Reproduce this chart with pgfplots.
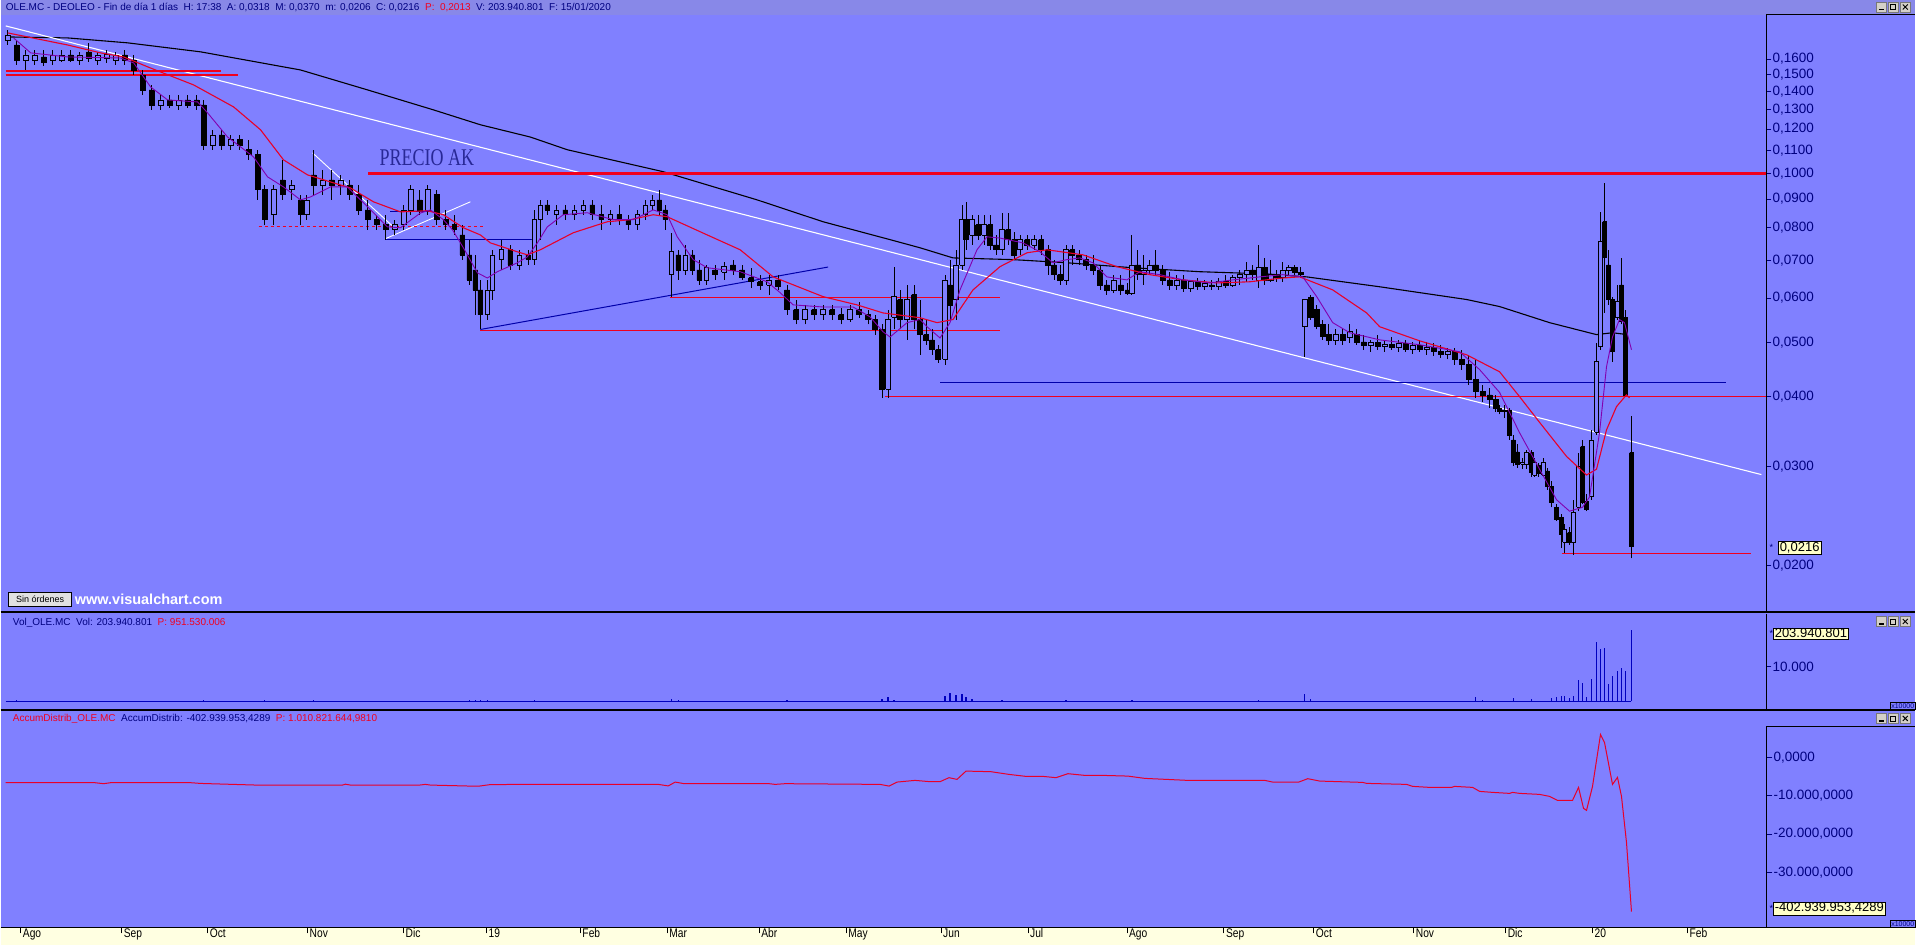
\documentclass[border=0pt]{standalone}
\usepackage{fontspec}
\setmainfont{Liberation Sans}
\newfontfamily\narrowfont[FakeStretch=0.82]{Liberation Sans}
\newfontfamily\precfont{Liberation Serif}
\usepackage{pgfplots}
\usepackage{pgfplotstable}
\pgfplotsset{compat=1.18}
\definecolor{bgp}{RGB}{128,128,255}
\definecolor{titlebg}{RGB}{136,136,232}
\definecolor{navy}{RGB}{0,0,128}
\definecolor{ylw}{RGB}{255,255,225}
\definecolor{maRed}{RGB}{232,0,40}
\definecolor{maPurple}{RGB}{130,0,175}
\definecolor{lnRed}{RGB}{240,0,30}
\definecolor{lnBlue}{RGB}{0,0,170}
\definecolor{volBlue}{RGB}{0,0,190}
\definecolor{btn}{RGB}{212,208,200}

% candles: x (bar position), open, high, low, close
\pgfplotstableread{
x o h l c
7 0.1730 0.1802 0.1694 0.1765
16 0.1694 0.1730 0.1561 0.1594
25 0.1594 0.1660 0.1529 0.1626
34 0.1594 0.1660 0.1561 0.1626
43 0.1613 0.1660 0.1555 0.1581
52 0.1594 0.1660 0.1561 0.1626
61 0.1594 0.1660 0.1581 0.1626
70 0.1626 0.1660 0.1581 0.1594
79 0.1594 0.1646 0.1561 0.1626
88 0.1646 0.1709 0.1581 0.1606
97 0.1594 0.1646 0.1561 0.1626
106 0.1606 0.1660 0.1574 0.1633
115 0.1594 0.1646 0.1561 0.1626
124 0.1626 0.1660 0.1561 0.1594
133 0.1594 0.1626 0.1498 0.1529
142 0.1498 0.1529 0.1380 0.1409
151 0.1409 0.1438 0.1298 0.1325
160 0.1325 0.1380 0.1298 0.1352
169 0.1352 0.1380 0.1309 0.1325
178 0.1325 0.1380 0.1298 0.1352
187 0.1352 0.1380 0.1309 0.1325
196 0.1352 0.1380 0.1298 0.1325
203 0.1325 0.1352 0.1102 0.1124
212 0.1124 0.1196 0.1102 0.1171
221 0.1171 0.1196 0.1102 0.1124
230 0.1124 0.1171 0.1102 0.1148
239 0.1148 0.1171 0.1102 0.1124
248 0.1102 0.1148 0.1057 0.1080
257 0.1080 0.1102 0.0897 0.0935
264 0.0935 0.0954 0.0810 0.0827
273 0.0844 0.0954 0.0810 0.0935
282 0.0974 0.1057 0.0897 0.0916
291 0.0935 0.0974 0.0897 0.0954
300 0.0897 0.0916 0.0810 0.0844
306 0.0844 0.0916 0.0827 0.0897
313 0.0994 0.1102 0.0916 0.0954
322 0.0954 0.1015 0.0916 0.0974
331 0.0974 0.1015 0.0897 0.0954
340 0.0954 0.0994 0.0916 0.0974
349 0.0954 0.0974 0.0897 0.0916
358 0.0916 0.0954 0.0844 0.0861
367 0.0861 0.0897 0.0794 0.0827
376 0.0827 0.0844 0.0794 0.0810
385 0.0810 0.0844 0.0762 0.0794
394 0.0794 0.0827 0.0777 0.0810
403 0.0810 0.0879 0.0794 0.0861
410 0.0861 0.0954 0.0844 0.0935
419 0.0897 0.0935 0.0844 0.0861
427 0.0861 0.0954 0.0844 0.0935
436 0.0916 0.0935 0.0810 0.0827
445 0.0827 0.0861 0.0794 0.0810
454 0.0810 0.0844 0.0777 0.0794
462 0.0777 0.0810 0.0702 0.0716
469 0.0716 0.0762 0.0633 0.0646
475 0.0673 0.0716 0.0560 0.0620
480 0.0620 0.0646 0.0527 0.0560
487 0.0560 0.0646 0.0549 0.0620
492 0.0620 0.0731 0.0596 0.0716
501 0.0702 0.0762 0.0673 0.0731
510 0.0731 0.0746 0.0673 0.0687
519 0.0687 0.0731 0.0673 0.0716
528 0.0716 0.0731 0.0687 0.0702
534 0.0702 0.0861 0.0687 0.0827
540 0.0827 0.0897 0.0762 0.0879
547 0.0879 0.0897 0.0844 0.0861
556 0.0844 0.0879 0.0810 0.0861
565 0.0861 0.0879 0.0827 0.0844
574 0.0844 0.0879 0.0827 0.0861
583 0.0861 0.0897 0.0844 0.0879
592 0.0879 0.0897 0.0827 0.0844
601 0.0844 0.0879 0.0794 0.0827
610 0.0827 0.0861 0.0810 0.0844
619 0.0844 0.0879 0.0810 0.0827
628 0.0827 0.0844 0.0794 0.0810
637 0.0810 0.0861 0.0794 0.0844
645 0.0844 0.0897 0.0827 0.0879
652 0.0879 0.0916 0.0861 0.0897
659 0.0897 0.0935 0.0844 0.0861
665 0.0861 0.0879 0.0794 0.0827
671 0.0660 0.0784 0.0603 0.0725
678 0.0716 0.0731 0.0646 0.0673
685 0.0673 0.0746 0.0660 0.0716
692 0.0716 0.0731 0.0660 0.0673
699 0.0673 0.0702 0.0633 0.0646
706 0.0646 0.0687 0.0633 0.0679
715 0.0673 0.0687 0.0646 0.0660
724 0.0667 0.0696 0.0646 0.0684
733 0.0687 0.0702 0.0660 0.0673
742 0.0673 0.0687 0.0646 0.0652
751 0.0652 0.0679 0.0625 0.0641
760 0.0641 0.0660 0.0620 0.0633
769 0.0633 0.0660 0.0608 0.0646
778 0.0646 0.0660 0.0620 0.0628
787 0.0620 0.0633 0.0560 0.0572
796 0.0572 0.0596 0.0538 0.0549
805 0.0549 0.0583 0.0538 0.0572
814 0.0572 0.0583 0.0549 0.0560
823 0.0560 0.0583 0.0549 0.0572
832 0.0572 0.0583 0.0549 0.0560
841 0.0560 0.0576 0.0538 0.0549
850 0.0549 0.0583 0.0544 0.0572
859 0.0572 0.0589 0.0553 0.0560
868 0.0560 0.0572 0.0538 0.0549
875 0.0549 0.0560 0.0516 0.0527
882 0.0527 0.0538 0.0398 0.0412
888 0.0412 0.0572 0.0398 0.0549
894 0.0555 0.0681 0.0527 0.0603
900 0.0596 0.0620 0.0527 0.0549
907 0.0549 0.0633 0.0505 0.0596
914 0.0608 0.0633 0.0527 0.0549
920 0.0549 0.0596 0.0475 0.0516
926 0.0516 0.0549 0.0495 0.0505
932 0.0505 0.0527 0.0475 0.0485
938 0.0485 0.0495 0.0460 0.0466
945 0.0466 0.0660 0.0456 0.0646
950 0.0633 0.0702 0.0549 0.0583
956 0.0596 0.0731 0.0549 0.0687
962 0.0687 0.0879 0.0673 0.0827
966 0.0827 0.0890 0.0731 0.0762
972 0.0777 0.0844 0.0746 0.0827
978 0.0810 0.0844 0.0762 0.0777
984 0.0777 0.0844 0.0746 0.0810
990 0.0810 0.0844 0.0731 0.0746
996 0.0746 0.0777 0.0716 0.0731
1002 0.0731 0.0850 0.0716 0.0794
1008 0.0794 0.0850 0.0746 0.0762
1014 0.0762 0.0787 0.0702 0.0716
1020 0.0731 0.0777 0.0716 0.0762
1027 0.0762 0.0777 0.0731 0.0746
1034 0.0746 0.0777 0.0731 0.0762
1041 0.0762 0.0777 0.0716 0.0731
1048 0.0731 0.0746 0.0660 0.0687
1054 0.0687 0.0702 0.0646 0.0660
1060 0.0660 0.0687 0.0633 0.0646
1066 0.0646 0.0746 0.0633 0.0731
1072 0.0731 0.0746 0.0687 0.0716
1079 0.0716 0.0731 0.0687 0.0702
1086 0.0702 0.0716 0.0673 0.0687
1093 0.0687 0.0716 0.0660 0.0673
1100 0.0673 0.0687 0.0620 0.0633
1107 0.0633 0.0646 0.0608 0.0620
1114 0.0620 0.0660 0.0612 0.0646
1121 0.0633 0.0660 0.0608 0.0620
1128 0.0620 0.0638 0.0608 0.0612
1132 0.0612 0.0777 0.0608 0.0687
1138 0.0687 0.0731 0.0646 0.0660
1144 0.0660 0.0716 0.0633 0.0673
1150 0.0673 0.0702 0.0660 0.0687
1156 0.0687 0.0731 0.0660 0.0673
1163 0.0673 0.0687 0.0633 0.0646
1170 0.0646 0.0667 0.0620 0.0633
1177 0.0633 0.0660 0.0620 0.0646
1184 0.0646 0.0660 0.0615 0.0625
1191 0.0625 0.0646 0.0615 0.0641
1198 0.0641 0.0652 0.0620 0.0628
1205 0.0628 0.0646 0.0620 0.0638
1212 0.0633 0.0646 0.0620 0.0630
1219 0.0630 0.0652 0.0620 0.0641
1226 0.0641 0.0660 0.0625 0.0633
1233 0.0633 0.0660 0.0628 0.0652
1240 0.0652 0.0673 0.0633 0.0660
1247 0.0660 0.0696 0.0641 0.0673
1253 0.0673 0.0687 0.0646 0.0660
1259 0.0646 0.0746 0.0625 0.0679
1265 0.0679 0.0707 0.0633 0.0646
1271 0.0646 0.0702 0.0641 0.0660
1277 0.0660 0.0673 0.0641 0.0652
1283 0.0652 0.0696 0.0641 0.0673
1289 0.0673 0.0687 0.0660 0.0679
1295 0.0679 0.0687 0.0660 0.0667
1301 0.0667 0.0681 0.0652 0.0660
1305 0.0534 0.0596 0.0471 0.0596
1311 0.0601 0.0608 0.0549 0.0555
1317 0.0572 0.0583 0.0527 0.0534
1323 0.0538 0.0549 0.0505 0.0512
1329 0.0516 0.0538 0.0495 0.0505
1336 0.0505 0.0527 0.0495 0.0516
1343 0.0516 0.0527 0.0495 0.0505
1350 0.0510 0.0538 0.0499 0.0523
1357 0.0516 0.0527 0.0495 0.0501
1364 0.0501 0.0516 0.0485 0.0493
1371 0.0493 0.0505 0.0481 0.0499
1378 0.0499 0.0516 0.0485 0.0491
1385 0.0491 0.0505 0.0481 0.0495
1392 0.0495 0.0510 0.0485 0.0489
1399 0.0489 0.0505 0.0481 0.0497
1406 0.0497 0.0505 0.0481 0.0485
1413 0.0485 0.0501 0.0477 0.0493
1420 0.0493 0.0505 0.0481 0.0485
1427 0.0485 0.0501 0.0475 0.0489
1434 0.0489 0.0499 0.0473 0.0481
1441 0.0481 0.0495 0.0469 0.0475
1448 0.0475 0.0489 0.0466 0.0481
1455 0.0481 0.0489 0.0456 0.0466
1462 0.0466 0.0485 0.0447 0.0456
1469 0.0456 0.0475 0.0420 0.0429
1476 0.0429 0.0466 0.0398 0.0409
1483 0.0409 0.0420 0.0392 0.0403
1490 0.0403 0.0415 0.0382 0.0395
1496 0.0395 0.0403 0.0376 0.0382
1500 0.0382 0.0387 0.0372 0.0376
1505 0.0376 0.0387 0.0367 0.0379
1510 0.0379 0.0382 0.0335 0.0342
1514 0.0335 0.0342 0.0301 0.0306
1518 0.0319 0.0329 0.0299 0.0303
1523 0.0303 0.0311 0.0297 0.0306
1527 0.0303 0.0322 0.0297 0.0318
1532 0.0318 0.0322 0.0288 0.0293
1535 0.0290 0.0311 0.0288 0.0306
1539 0.0302 0.0305 0.0288 0.0292
1544 0.0290 0.0311 0.0288 0.0306
1548 0.0295 0.0299 0.0273 0.0277
1552 0.0277 0.0283 0.0254 0.0259
1557 0.0254 0.0257 0.0240 0.0242
1562 0.0244 0.0247 0.0215 0.0227
1565 0.0220 0.0237 0.0211 0.0232
1570 0.0229 0.0234 0.0218 0.0220
1574 0.0220 0.0262 0.0209 0.0249
1579 0.0254 0.0318 0.0250 0.0301
1583 0.0326 0.0335 0.0257 0.0259
1587 0.0260 0.0268 0.0250 0.0252
1592 0.0266 0.0349 0.0262 0.0335
1597 0.0346 0.0499 0.0342 0.0462
1601 0.0491 0.0854 0.0485 0.0756
1605 0.0820 0.0962 0.0565 0.0710
1609 0.0687 0.0731 0.0583 0.0596
1613 0.0596 0.0601 0.0462 0.0481
1618 0.0553 0.0633 0.0549 0.0591
1622 0.0633 0.0707 0.0538 0.0544
1626 0.0553 0.0572 0.0400 0.0403
1632 0.0318 0.0370 0.0206 0.0216
}\candles
\pgfplotstablegetrowsof{\candles}
\pgfmathtruncatemacro\nlast{\pgfplotsretval-1}

\pgfplotsset{
  wick/.style={black, line width=0.8pt, forget plot, mark=none},
  candleup/.style={draw=black, fill=bgp, line width=0.6pt, forget plot, mark=none},
  candledn/.style={draw=black, fill=black, line width=0.6pt, forget plot, mark=none},
}
\newcommand\drawcandles{%
  \pgfplotsforeachungrouped \ci in {0,...,\nlast}{%
    \pgfplotstablegetelem{\ci}{x}\of\candles \edef\cx{\pgfplotsretval}%
    \pgfplotstablegetelem{\ci}{o}\of\candles \edef\co{\pgfplotsretval}%
    \pgfplotstablegetelem{\ci}{h}\of\candles \edef\ch{\pgfplotsretval}%
    \pgfplotstablegetelem{\ci}{l}\of\candles \edef\cl{\pgfplotsretval}%
    \pgfplotstablegetelem{\ci}{c}\of\candles \edef\cc{\pgfplotsretval}%
    \ifdim\cx pt<1498pt \def\hw{2.4}\else\def\hw{1.8}\fi
    \pgfmathsetmacro\xa{\cx-\hw}\pgfmathsetmacro\xb{\cx+\hw}%
    \ifdim\cc pt<\co pt \def\cst{candledn}\else\def\cst{candleup}\fi
    \edef\tmp{\noexpand\addplot[wick] coordinates {(\cx,\cl) (\cx,\ch)};
      \noexpand\addplot[\cst] coordinates {(\xa,\co) (\xb,\co) (\xb,\cc) (\xa,\cc) (\xa,\co)};}%
    \tmp
  }%
}

\begin{document}
\begin{tikzpicture}
\begin{scope}[x=1pt,y=1pt]
\fill[bgp] (0,0) rectangle (1916,946);
\fill[titlebg] (0,931) rectangle (1916,946);
\fill[ylw] (0,0) rectangle (1916,18);
\end{scope}

% ================= PRICE PANEL =================
\begin{axis}[at={(0pt,334pt)}, anchor=south west, scale only axis,
  width=1767pt, height=597pt,
  xmin=0, xmax=1767, ymode=log, ymin=0.01656, ymax=0.1916,
  axis line style={draw=none}, xtick=\empty,
  ytick pos=right, yticklabel pos=right, tick align=outside,
  major tick length=5pt, yminorticks=false,
  ytick style={navy, line width=0.7pt},
  ytick={0.02,0.03,0.04,0.05,0.06,0.07,0.08,0.09,0.1,0.11,0.12,0.13,0.14,0.15,0.16},
  yticklabels={{0,0200},{0,0300},{0,0400},{0,0500},{0,0600},{0,0700},{0,0800},{0,0900},{0,1000},{0,1100},{0,1200},{0,1300},{0,1400},{0,1500},{0,1600}},
  yticklabel style={font=\fontsize{13.5}{14}\selectfont, text=navy, inner sep=1pt},
]
\addplot[black, line width=1.1pt] coordinates {(7,0.1751)(67,0.1744)(127,0.1709)(200,0.1647)(300,0.1529)(367,0.1409)(433,0.1298)(480,0.1221)(530,0.1161)(567,0.1102)(663,0.1007)(757,0.0897)(823,0.0820)(890,0.0762)(920,0.0737)(953,0.0707)(1013,0.0702)(1067,0.0693)(1133,0.0679)(1200,0.0668)(1267,0.0662)(1307,0.0654)(1380,0.0628)(1467,0.0596)(1500,0.0579)(1550,0.0542)(1597,0.0516)(1613,0.0520)(1628,0.0516)};
\addplot[white, line width=1.1pt] coordinates {(5,0.1832)(1762,0.02905)};
\addplot[white, line width=0.9pt] coordinates {(312,0.1088)(393,0.0803)};
\addplot[white, line width=0.9pt] coordinates {(385,0.0765)(470,0.0890)};
\addplot[lnRed, line width=1.2pt] coordinates {(5,0.1523)(220,0.1523)};
\addplot[lnRed, line width=1.2pt] coordinates {(5,0.1498)(237,0.1498)};
\addplot[lnRed, line width=0.9pt, dash pattern=on 3pt off 3pt] coordinates {(258,0.0803)(485,0.0803)};
\addplot[lnBlue, line width=0.9pt] coordinates {(385,0.0762)(537,0.0762)};
\addplot[lnBlue, line width=0.9pt] coordinates {(390,0.0854)(433,0.0854)};
\addplot[lnBlue, line width=1.0pt] coordinates {(480,0.0527)(828,0.0681)};
\addplot[lnRed, line width=2.3pt] coordinates {(368,0.1000)(1767,0.1000)};
\addplot[lnRed, line width=1.0pt] coordinates {(480,0.0525)(1000,0.0525)};
\addplot[lnRed, line width=1.0pt] coordinates {(670,0.0600)(1000,0.0600)};
\addplot[lnBlue, line width=1.0pt] coordinates {(940,0.0424)(1727,0.0424)};
\addplot[lnRed, line width=1.0pt] coordinates {(885,0.0400)(1767,0.0400)};
\addplot[lnRed, line width=1.0pt] coordinates {(1562,0.0210)(1752,0.0210)};
\drawcandles
\addplot[maRed, line width=1.1pt] coordinates {(7,0.1780)(67,0.1694)(100,0.1640)(123,0.1613)(150,0.1541)(193,0.1438)(233,0.1314)(260,0.1196)(283,0.1057)(307,0.0994)(333,0.0962)(350,0.0942)(373,0.0890)(400,0.0854)(427,0.0858)(443,0.0844)(463,0.0800)(480,0.0777)(490,0.0752)(517,0.0725)(527,0.0716)(540,0.0731)(573,0.0784)(607,0.0820)(630,0.0827)(653,0.0844)(667,0.0837)(707,0.0777)(740,0.0731)(773,0.0654)(823,0.0603)(857,0.0583)(883,0.0564)(920,0.0553)(937,0.0542)(953,0.0549)(973,0.0620)(1000,0.0682)(1027,0.0722)(1047,0.0731)(1083,0.0716)(1117,0.0682)(1150,0.0660)(1183,0.0646)(1217,0.0638)(1250,0.0641)(1283,0.0651)(1300,0.0654)(1333,0.0620)(1367,0.0564)(1380,0.0533)(1420,0.0503)(1467,0.0475)(1500,0.0443)(1520,0.0400)(1540,0.0360)(1567,0.0313)(1587,0.0290)(1597,0.0297)(1607,0.0349)(1617,0.0384)(1627,0.0403)(1630,0.0398)};
\addplot[maPurple, line width=0.9pt] coordinates {(13,0.1743)(30,0.1640)(67,0.1613)(120,0.1606)(133,0.1574)(150,0.1426)(167,0.1352)(197,0.1341)(207,0.1282)(227,0.1161)(240,0.1115)(253,0.1070)(267,0.0986)(283,0.0946)(300,0.0897)(310,0.0908)(330,0.0946)(347,0.0946)(367,0.0872)(387,0.0803)(400,0.0800)(420,0.0850)(430,0.0861)(443,0.0827)(452,0.0794)(463,0.0737)(477,0.0665)(487,0.0651)(497,0.0668)(517,0.0693)(527,0.0710)(537,0.0752)(547,0.0803)(563,0.0844)(587,0.0851)(613,0.0827)(633,0.0827)(653,0.0861)(667,0.0844)(677,0.0771)(693,0.0702)(707,0.0679)(740,0.0668)(767,0.0641)(780,0.0613)(793,0.0583)(823,0.0578)(853,0.0578)(870,0.0555)(883,0.0522)(890,0.0511)(907,0.0542)(920,0.0549)(927,0.0533)(940,0.0509)(950,0.0542)(960,0.0620)(977,0.0731)(987,0.0771)(1000,0.0767)(1023,0.0752)(1040,0.0725)(1053,0.0693)(1067,0.0702)(1080,0.0707)(1093,0.0693)(1107,0.0654)(1127,0.0646)(1140,0.0668)(1160,0.0660)(1183,0.0646)(1210,0.0638)(1233,0.0646)(1260,0.0654)(1283,0.0660)(1303,0.0654)(1317,0.0603)(1333,0.0542)(1350,0.0520)(1380,0.0505)(1420,0.0495)(1460,0.0481)(1480,0.0447)(1500,0.0407)(1520,0.0345)(1540,0.0297)(1557,0.0262)(1570,0.0250)(1583,0.0254)(1590,0.0265)(1600,0.0345)(1607,0.0452)(1613,0.0511)(1620,0.0549)(1625,0.0542)(1632,0.0485)};
\end{axis}

% ================= VOLUME PANEL =================
\begin{axis}[at={(0pt,235pt)}, anchor=south west, scale only axis,
  width=1767pt, height=97pt,
  xmin=0, xmax=1767, ymin=-2571, ymax=25143,
  axis line style={draw=none}, xtick=\empty,
  ytick pos=right, yticklabel pos=right, tick align=outside,
  major tick length=5pt, ytick style={navy, line width=0.7pt},
  ytick={10000}, yticklabels={10.000}, scaled y ticks=false,
  yticklabel style={font=\fontsize{13.5}{14}\selectfont, text=navy, inner sep=1pt},
]
\addplot[volBlue, line width=1.3pt] coordinates {(5,0)(1632,0)};
\addplot[ycomb, volBlue, line width=1.3pt] coordinates {(7,150)(16,300)(25,120)(34,200)(52,100)(70,80)(106,60)(133,250)(142,180)(151,200)(203,300)(212,150)(257,250)(264,400)(273,200)(313,300)(358,150)(385,150)(410,200)(462,200)(469,300)(475,400)(480,500)(487,300)(534,400)(540,250)(601,150)(671,700)(678,300)(787,300)(882,700)(888,1400)(894,500)(945,1500)(950,2400)(956,1800)(962,2200)(966,1200)(972,800)(1002,300)(1066,300)(1132,400)(1259,300)(1305,2000)(1311,600)(1343,200)(1413,200)(1476,1400)(1483,500)(1514,900)(1532,700)(1552,1100)(1557,1300)(1562,1500)(1565,1600)(1570,900)(1574,1700)(1579,6000)(1583,5400)(1587,1400)(1592,6300)(1597,16900)(1601,15100)(1605,15400)(1609,4900)(1613,7400)(1618,8600)(1622,9700)(1626,8600)(1632,20394.08)};
\end{axis}

% ================= ACCUM/DISTRIB PANEL =================
\begin{axis}[at={(0pt,18pt)}, anchor=south west, scale only axis,
  width=1767pt, height=216pt,
  xmin=0, xmax=1767, ymin=-44386, ymax=12010,
  axis line style={draw=none},
  ytick pos=right, yticklabel pos=right, xtick pos=bottom, tick align=outside,
  major tick length=6pt, ytick style={navy, line width=0.7pt},
  xtick style={black, line width=0.7pt}, scaled y ticks=false,
  ytick={0,-10000,-20000,-30000},
  yticklabels={{0,0000},{-10.000,0000},{-20.000,0000},{-30.000,0000}},
  yticklabel style={font=\fontsize{13.5}{14}\selectfont, text=navy, inner sep=1pt},
  xtick={20,121,207,307,403,486,580,667,759,846,941,1028,1127,1224,1314,1414,1506,1593,1688},
  xticklabels={Ago,Sep,Oct,Nov,Dic,19,Feb,Mar,Abr,May,Jun,Jul,Ago,Sep,Oct,Nov,Dic,20,Feb},
  xticklabel style={anchor=north west, inner sep=1pt, xshift=1pt, yshift=6pt, font=\narrowfont\fontsize{12.5}{13}\selectfont},
]
\addplot[maRed, line width=1pt] coordinates {(5,-6606)(94,-6606)(103,-6867)(110,-6606)(154,-6606)(190,-6606)(200,-6800)(256,-7232)(342,-7232)(345,-7000)(350,-7232)(419,-7232)(425,-7050)(430,-7232)(470,-7494)(479,-7494)(490,-7100)(530,-7050)(658,-7050)(668,-7450)(675,-6449)(684,-6867)(769,-6867)(775,-7050)(785,-6867)(880,-7050)(889,-7494)(897,-6449)(915,-6005)(930,-6345)(940,-6345)(949,-5300)(957,-5744)(966,-3577)(991,-3734)(1009,-4439)(1026,-4961)(1043,-4961)(1056,-5300)(1068,-4256)(1085,-4700)(1103,-4700)(1128,-4883)(1145,-5483)(1188,-6005)(1265,-6005)(1273,-6449)(1299,-6449)(1308,-5561)(1320,-6188)(1363,-6528)(1367,-6789)(1407,-7050)(1413,-7572)(1430,-7833)(1452,-7833)(1455,-7572)(1473,-7833)(1480,-8877)(1493,-9139)(1510,-9400)(1513,-9139)(1520,-9400)(1540,-9661)(1550,-10183)(1558,-11227)(1573,-11227)(1579,-7833)(1584,-13316)(1587,-13838)(1593,-7572)(1601,6005)(1605,3917)(1613,-7050)(1618,-5222)(1622,-10183)(1627,-22194)(1632,-40293.995)};
\end{axis}

\begin{scope}[x=1pt,y=1pt]
% frame lines
\draw[black, line width=1pt] (1767,931) -- (1916,931);
\draw[black, line width=1.5pt] (0,333.5) -- (1916,333.5);
\draw[black, line width=1.5pt] (0,235.5) -- (1916,235.5);
\draw[black, line width=1pt] (1767,219) -- (1916,219);
\draw[black, line width=1.2pt] (0,18) -- (1916,18);
\draw[black, line width=1pt] (1767,334) -- (1767,931);
\draw[black, line width=1pt] (1767,236) -- (1767,332);
\draw[black, line width=1pt] (1767,18) -- (1767,219);
% texts
\node[anchor=base west, inner sep=0pt, font=\fontsize{10}{12}\selectfont, text=navy] at (5,935)
  {OLE.MC - DEOLEO - Fin de día 1 días\ \ H: 17:38\ \ A: 0,0318\ \ M: 0,0370\ \ m: 0,0206\ \ C: 0,0216\ \ \textcolor{lnRed}{P:\ \ 0,2013}\ \ V: 203.940.801\ \ F: 15/01/2020};
\node[anchor=base west, inner sep=0pt, font=\fontsize{10}{12}\selectfont, text=navy] at (12,320)
  {Vol\_OLE.MC\ \ Vol: 203.940.801\ \ \textcolor{lnRed}{P: 951.530.006}};
\node[anchor=base west, inner sep=0pt, font=\fontsize{10}{12}\selectfont, text=navy] at (12,224)
  {\textcolor{lnRed}{AccumDistrib\_OLE.MC}\ \ AccumDistrib: -402.939.953,4289\ \ \textcolor{lnRed}{P: 1.010.821.644,9810}};
\node[anchor=base west, inner sep=0pt, text={rgb,255:red,40;green,40;blue,150}] at (379,780)
  {\scalebox{0.75}[1]{\precfont\fontsize{24}{24}\selectfont PRECIO AK}};
\draw[black, fill={rgb,255:red,225;green,225;blue,225}, line width=0.6pt] (8,339) rectangle (71,353);
\node[font=\fontsize{9}{10}\selectfont, inner sep=0pt] at (39.5,346) {Sin órdenes};
\node[anchor=west, inner sep=0pt, text=white, font=\bfseries\fontsize{14.5}{15}\selectfont] at (74,346) {www.visualchart.com};
% value boxes
\node[font=\fontsize{9}{9}\selectfont, text=navy] at (1772,398) {*};
\node[draw=black, fill={rgb,255:red,255;green,255;blue,200}, inner sep=1.2pt, font=\fontsize{13}{13}\selectfont, anchor=west] at (1779,398) {0,0216};
\node[font=\fontsize{9}{9}\selectfont, text=navy] at (1772,312) {*};
\node[draw=black, fill={rgb,255:red,255;green,255;blue,200}, inner sep=1.2pt, font=\fontsize{13}{13}\selectfont, anchor=west] at (1774,312) {203.940.801};
\node[font=\fontsize{9}{9}\selectfont, text=navy] at (1772,37) {*};
\node[draw=black, fill={rgb,255:red,255;green,255;blue,200}, inner sep=1.2pt, font=\fontsize{13}{13}\selectfont, anchor=west] at (1774,37) {-402.939.953,4289};
\node[draw=black, inner sep=0.8pt, font=\fontsize{7}{7}\selectfont, text=navy, anchor=south east] at (1916,236) {x10000};
\node[draw=black, inner sep=0.8pt, font=\fontsize{7}{7}\selectfont, text=navy, anchor=south east] at (1916,18) {x10000};
% window buttons
\foreach \yb in {934,319,222}{
  \foreach \xb in {1877,1889,1901}{
    \draw[fill=btn, draw={rgb,255:red,120;green,120;blue,120}, line width=0.5pt] (\xb,\yb) rectangle ++(10,10);
  }
  \draw[black, line width=1.2pt] (1879.5,\yb+2.5) -- (1884.5,\yb+2.5);
  \draw[black, line width=0.8pt] (1891.5,\yb+2.5) rectangle (1896.5,\yb+7.5);
  \draw[black, line width=1pt] (1903.5,\yb+2.5) -- (1908.5,\yb+7.5) (1903.5,\yb+7.5) -- (1908.5,\yb+2.5);
}
\end{scope}
\end{tikzpicture}
\end{document}
